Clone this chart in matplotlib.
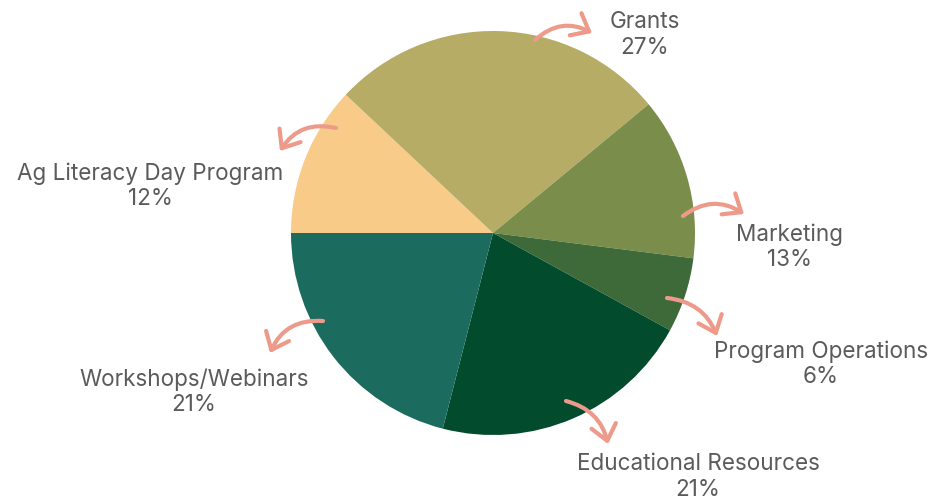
import matplotlib
matplotlib.use("Agg")
import matplotlib.pyplot as plt

# data
labels = ["Ag Literacy Day Program", "Grants", "Marketing",
          "Program Operations", "Educational Resources", "Workshops/Webinars"]
values = [12, 27, 13, 6, 21, 21]
colors = ["#F8CB88", "#B6AC66", "#7B8D4B", "#3E6A39", "#034B2D", "#1B6C5F"]

# layout (pixel positions in the 950x497 picture)
CX, CY, R = 493, 233, 202
text_pos = [(150, 186), (645, 35), (790, 247), (821, 364), (698, 477), (194, 392)]
arrow_tail = [(336, 128), (535, 40), (683, 216), (667, 298), (566, 401), (323, 321)]
arrow_head = [(280, 151), (592, 33), (744, 214), (717, 336), (608, 444), (270, 353)]
arrow_rad = [0.35, -0.35, -0.35, -0.3, -0.3, 0.35]


def px(x, y):
    # picture pixels -> data units (pie radius = 1)
    return (x - CX) / R, (CY - y) / R


plt.rcParams['font.family'] = ['Inter', 'DejaVu Sans']

fig = plt.figure(figsize=(9.5, 4.97), dpi=100)
ax = fig.add_axes([0, 0, 1, 1])

ax.pie(values, colors=colors, startangle=180, counterclock=False,
       radius=1, wedgeprops=dict(linewidth=0))

for lab, v, tp, t, h, rad in zip(labels, values, text_pos, arrow_tail, arrow_head, arrow_rad):
    ax.text(*px(*tp), f"{lab}\n{v}%", ha="center", va="center",
            fontsize=16.2, color="#5b5b5b", linespacing=1.18)
    ax.annotate("", xy=px(*h), xytext=px(*t),
                arrowprops=dict(arrowstyle="->,head_length=0.55,head_width=0.45",
                                connectionstyle=f"arc3,rad={rad}",
                                color="#EE9A8B", lw=3, mutation_scale=20,
                                capstyle="round", joinstyle="round",
                                shrinkA=0, shrinkB=0))

ax.set_xlim(px(0, 0)[0], px(950, 0)[0])
ax.set_ylim(px(0, 497)[1], px(0, 0)[1])
ax.set_aspect("equal", adjustable="box")
ax.axis("off")

fig.savefig("out.png", dpi=100, facecolor="white")
